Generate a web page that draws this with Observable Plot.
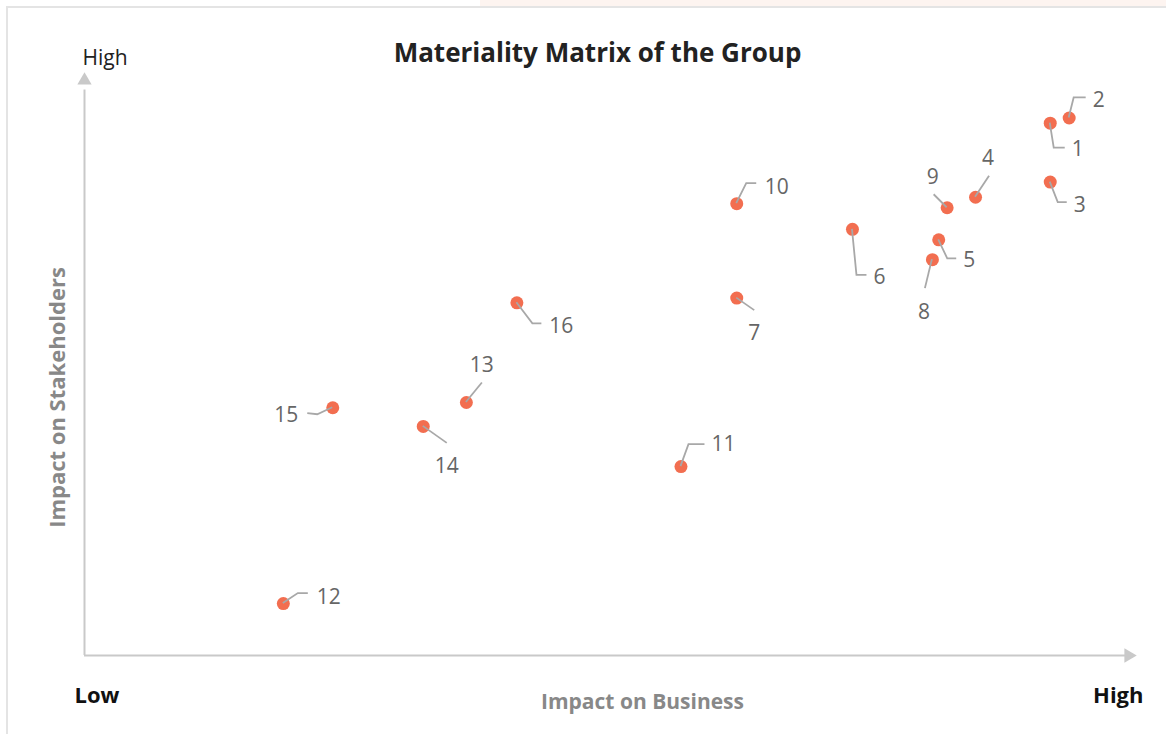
<!DOCTYPE html>
<html>
<head>
<meta charset="utf-8">
<script src="https://cdn.jsdelivr.net/npm/d3@7"></script>
<script src="https://cdn.jsdelivr.net/npm/@observablehq/plot@0.6"></script>
<style>
  html, body { margin: 0; padding: 0; background: #fff; }
  #wrap { position: relative; width: 1166px; height: 734px; overflow: hidden; }
  #strip { position: absolute; left: 480px; top: 0; width: 686px; height: 7px; background: #fdf4f0; }
  #border { position: absolute; left: 6px; top: 6px; right: -10px; bottom: -10px;
            border-left: 2px solid #e4e4e4; border-top: 2px solid #e4e4e4; pointer-events: none; }
</style>
</head>
<body>
<div id="wrap"><div id="strip"></div><div id="chart"></div><div id="border"></div></div>
<script>
// Topic numbers
const ids = ["1","2","3","4","5","6","7","8","9","10","11","12","13","14","15","16"];
// Impact on Business (0 = low, 100 = high)
const business = [91.8, 93.6, 91.8, 84.7, 81.2, 73.0, 62.0, 80.6, 82.0, 62.0, 56.7, 18.9, 36.3, 32.2, 23.6, 41.1];
// Impact on Stakeholders (0 = low, 100 = high)
const stakeholders = [91.3, 92.2, 81.2, 78.6, 71.3, 73.1, 61.3, 67.9, 76.8, 77.5, 32.4, 8.9, 43.4, 39.3, 42.5, 60.5];
// Text labels
const titleText = "Materiality Matrix of the Group";
const xAxisLabel = "Impact on Business";
const yAxisLabel = "Impact on Stakeholders";
const lowLabel = "Low";
const highLabel = "High";

// Annotation layout: leader polyline offsets (px) and label offsets (px) relative to each point
const leaderOffsets = [
  [[0,0],[4,25],[15,25]],
  [[0,0],[5,-20],[17,-20]],
  [[0,0],[8,20.5],[17,20.5]],
  [[0,0],[14,-21]],
  [[0,0],[9,19],[18,19]],
  [[0,0],[4.5,46],[14.5,46]],
  [[0,0],[18,12.5]],
  [[0,0],[-7,29]],
  [[0,0],[-13,-13]],
  [[0,0],[10,-20],[20,-20]],
  [[0,0],[8,-22],[24,-22]],
  [[0,0],[15,-10],[25,-10]],
  [[0,0],[16,-19.5]],
  [[0,0],[24,17]],
  [[0,0],[-15,7],[-25,6]],
  [[0,0],[16,21],[25,21]]
];
const labelOffsets = [
  [28,26],[30,-18],[30,22.5],[13,-39],[31,20],[27.5,48],[18,34.5],[-8,52],
  [-14,-31],[40.5,-17],[43,-23],[46,-7],[16,-38],[24,39.5],[-46,7],[45,23]
];

const items = ids.map((id, i) => ({
  id, x: business[i], y: stakeholders[i], leader: leaderOffsets[i], label: labelOffsets[i]
}));

const axisColor = "#c9c9c9";

const chart = Plot.plot({
  width: 1166,
  height: 734,
  marginLeft: 84,
  marginRight: 30,
  marginTop: 72,
  marginBottom: 79,
  style: { fontFamily: "'Open Sans', sans-serif", background: "transparent" },
  x: { domain: [0, 100], axis: null },
  y: { domain: [0, 100], axis: null },
  marks: [
    // axes with arrows
    Plot.ruleX([0], { y1: 0, y2: 97, stroke: axisColor, strokeWidth: 2 }),
    Plot.ruleY([0], { x1: 0, x2: 99, stroke: axisColor, strokeWidth: 2 }),
    Plot.dot([0], { x: 0, y: 100, symbol: "triangle", r: 5.3, fill: axisColor, stroke: null, dy: 8 }),
    Plot.dot([0], { x: 100, y: 0, symbol: "triangle", r: 5.3, fill: axisColor, stroke: null, rotate: 90, dx: -8 }),
    // points
    Plot.dot(items, { x: "x", y: "y", r: 6.5, fill: "#f26e50", stroke: null }),
    // leader lines and number labels
    Plot.dot(items, {
      x: "x", y: "y",
      render(index, scales, values) {
        const g = d3.create("svg:g");
        for (const i of index) {
          const px = values.x[i], py = values.y[i];
          const d = items[i];
          g.append("path")
            .attr("d", d3.line()(d.leader.map(([dx, dy]) => [px + dx, py + dy])))
            .attr("fill", "none")
            .attr("stroke", "#a8a8a8")
            .attr("stroke-width", 1.8);
          g.append("text")
            .attr("x", px + d.label[0])
            .attr("y", py + d.label[1])
            .attr("dy", "0.36em")
            .attr("text-anchor", "middle")
            .attr("fill", "#666")
            .attr("font-size", 21)
            .attr("font-family", "'Open Sans', sans-serif")
            .text(d.id);
        }
        return g.node();
      }
    }),
    // title
    Plot.text([titleText], { text: d => d, frameAnchor: "top-left", lineAnchor: "middle", dx: 513, dy: -19, fontSize: 26, fontWeight: "bold", fill: "#222", textAnchor: "middle" }),
    // y top label
    Plot.text([highLabel], { text: d => d, frameAnchor: "top-left", lineAnchor: "middle", dx: -2, dy: -14, fontSize: 21, fill: "#222", textAnchor: "start" }),
    // y axis title
    Plot.text([yAxisLabel], { text: d => d, frameAnchor: "left", lineAnchor: "middle", dx: -27, dy: 33.5, rotate: -90, fontSize: 22, fontWeight: "bold", fill: "#888", textAnchor: "middle" }),
    // x low / high
    Plot.text([lowLabel], { text: d => d, frameAnchor: "bottom-left", lineAnchor: "middle", dx: -10, dy: 40, fontSize: 22, fontWeight: "bold", fill: "#111", textAnchor: "start" }),
    Plot.text([highLabel], { text: d => d, frameAnchor: "bottom-right", lineAnchor: "middle", dx: 7, dy: 40, fontSize: 22, fontWeight: "bold", fill: "#111", textAnchor: "end" }),
    // x axis title
    Plot.text([xAxisLabel], { text: d => d, frameAnchor: "bottom", lineAnchor: "middle", dx: 32, dy: 47, fontSize: 21, fontWeight: "bold", fill: "#888", textAnchor: "middle" })
  ]
});
document.getElementById("chart").appendChild(chart);
</script>
</body>
</html>
